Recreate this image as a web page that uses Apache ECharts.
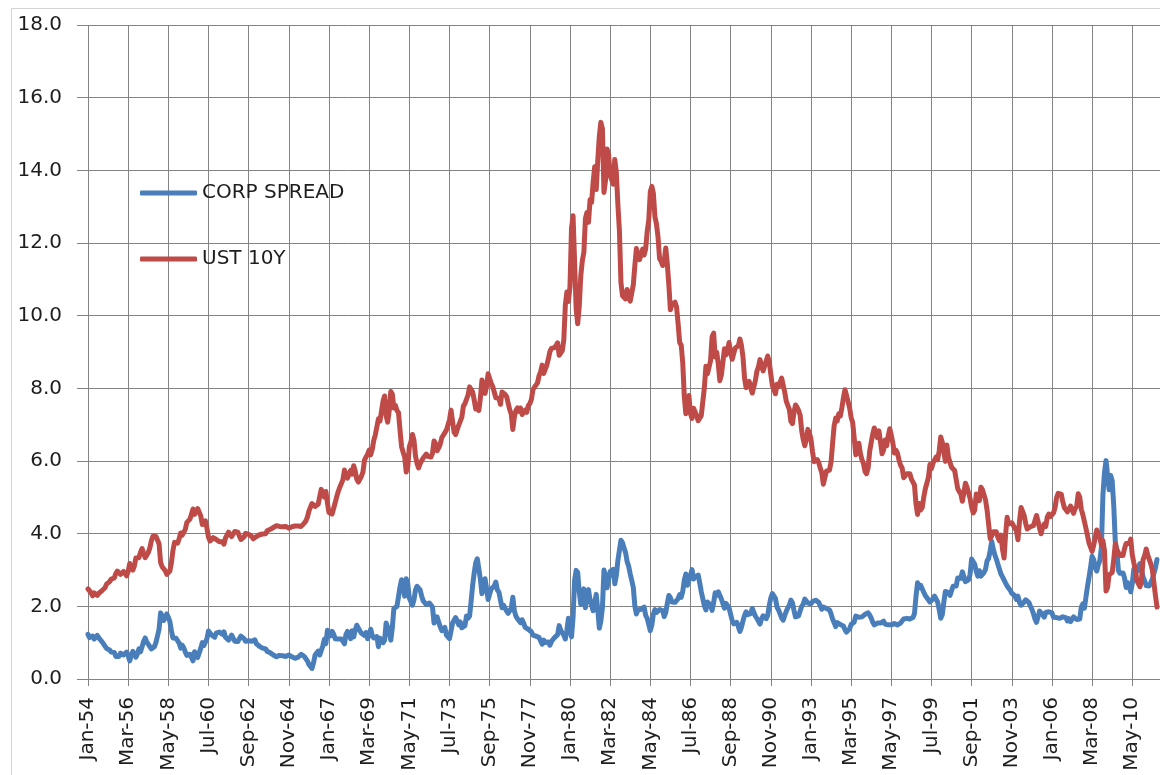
<!DOCTYPE html>
<html>
<head>
<meta charset="utf-8">
<script src="https://cdn.jsdelivr.net/npm/echarts@6/dist/echarts.min.js"></script>
<style>
html,body{margin:0;padding:0;background:#fff;}
#chart{width:1160px;height:775px;}
</style>
</head>
<body>
<div id="chart"></div>
<script>
// Month names used for category labels (Mon-YY), monthly from Jan-54 to Sep-11
const monthNames = ['Jan','Feb','Mar','Apr','May','Jun','Jul','Aug','Sep','Oct','Nov','Dec'];
const firstYear = 1954;
const lastYear = 2011;
const lastMonthIndex = 8; // Sep of last year

const categories = [];
for (let y = firstYear; y <= lastYear; y++) {
  for (let m = 0; m < 12; m++) {
    if (y === lastYear && m > lastMonthIndex) break;
    categories.push(monthNames[m] + '-' + String(y % 100).padStart(2, '0'));
  }
}

const yTickValues = [0, 2, 4, 6, 8, 10, 12, 14, 16, 18];

const seriesNames = ['CORP SPREAD', 'UST 10Y'];

// UST 10Y, monthly
const ust10y = [
2.48,2.47,2.37,2.29,2.37,2.38,2.30,2.36,2.38,2.43,2.48,2.51,
2.61,2.65,2.68,2.75,2.76,2.78,2.90,2.97,2.97,2.88,2.89,2.96,
2.90,2.84,2.96,3.18,3.07,3.00,3.11,3.33,3.38,3.34,3.49,3.59,
3.46,3.34,3.41,3.48,3.60,3.80,3.93,3.93,3.92,3.97,3.72,3.21,
3.09,3.05,2.98,2.88,2.92,2.97,3.20,3.54,3.76,3.80,3.74,3.86,
4.02,3.96,3.99,4.12,4.31,4.34,4.40,4.43,4.68,4.53,4.53,4.69,
4.72,4.49,4.25,4.28,4.35,4.15,3.90,3.80,3.80,3.89,3.93,3.84,
3.84,3.78,3.74,3.78,3.71,3.88,3.92,4.04,3.98,3.92,3.94,4.06,
4.08,4.04,3.93,3.84,3.87,3.91,4.01,3.98,3.98,3.93,3.92,3.86,
3.83,3.92,3.93,3.97,3.93,3.99,4.02,4.00,4.08,4.11,4.12,4.13,
4.17,4.15,4.22,4.23,4.20,4.17,4.19,4.19,4.20,4.19,4.15,4.18,
4.19,4.21,4.21,4.20,4.21,4.21,4.20,4.25,4.29,4.35,4.45,4.62,
4.61,4.83,4.87,4.75,4.78,4.81,5.02,5.22,5.18,5.01,5.16,4.84,
4.58,4.63,4.54,4.59,4.85,5.02,5.16,5.28,5.30,5.48,5.75,5.70,
5.53,5.56,5.74,5.64,5.87,5.72,5.50,5.42,5.46,5.58,5.70,6.03,
6.04,6.19,6.30,6.17,6.32,6.57,6.72,6.69,7.16,7.10,7.14,7.65,
7.79,7.24,7.07,7.39,7.91,7.84,7.46,7.53,7.39,7.33,6.84,6.39,
6.24,6.11,5.70,5.83,6.39,6.52,6.73,6.58,6.14,5.93,5.81,5.93,
5.95,6.08,6.07,6.19,6.13,6.11,6.11,6.21,6.55,6.48,6.28,6.36,
6.46,6.64,6.71,6.67,6.85,6.90,7.13,7.40,7.09,6.79,6.73,6.74,
6.99,6.96,7.21,7.51,7.58,7.54,7.81,8.04,8.04,7.90,7.68,7.43,
7.50,7.39,7.73,8.23,8.06,7.86,8.06,8.40,8.43,8.14,8.05,8.00,
7.74,7.79,7.73,7.56,7.90,7.86,7.83,7.77,7.59,7.41,7.29,6.87,
7.21,7.39,7.46,7.37,7.46,7.28,7.33,7.40,7.34,7.52,7.58,7.69,
7.96,8.03,8.04,8.15,8.35,8.46,8.64,8.41,8.42,8.64,8.81,9.01,
9.10,9.10,9.12,9.18,9.25,8.91,8.95,9.03,9.33,10.30,10.65,10.39,
10.80,12.41,12.75,11.47,10.18,9.78,10.25,11.10,11.51,11.75,12.68,12.84,
12.57,13.19,13.12,13.68,14.10,13.47,14.28,14.94,15.32,15.15,13.39,13.72,
14.59,14.43,13.86,13.87,13.62,14.30,13.95,13.06,12.34,10.91,10.55,10.54,
10.46,10.72,10.51,10.40,10.38,10.85,11.38,11.85,11.65,11.54,11.69,11.83,
11.67,11.84,12.32,12.63,13.41,13.56,13.36,12.72,12.52,12.16,11.57,11.50,
11.38,11.51,11.86,11.43,10.85,10.16,10.31,10.33,10.37,10.24,9.78,9.26,
9.19,8.70,7.78,7.30,7.71,7.80,7.30,7.17,7.45,7.43,7.25,7.11,
7.08,7.25,7.25,8.02,8.61,8.40,8.45,8.76,9.42,9.52,8.86,8.99,
8.67,8.21,8.37,8.72,9.09,8.92,9.06,9.26,8.98,8.80,8.96,9.11,
9.09,9.17,9.36,9.18,8.86,8.28,8.02,8.11,8.19,8.01,7.87,7.84,
8.21,8.47,8.59,8.79,8.76,8.48,8.47,8.75,8.89,8.72,8.39,8.08,
8.09,7.85,8.11,8.04,8.07,8.28,8.27,7.90,7.65,7.53,7.42,7.09,
7.03,7.34,7.54,7.48,7.39,7.26,6.84,6.59,6.42,6.59,6.87,6.77,
6.60,6.26,5.98,5.97,6.04,5.96,5.81,5.68,5.36,5.33,5.72,5.77,
5.75,5.97,6.48,6.97,7.18,7.10,7.30,7.24,7.46,7.74,7.96,7.81,
7.78,7.47,7.20,7.06,6.63,6.17,6.28,6.49,6.20,6.04,5.93,5.71,
5.65,5.81,6.27,6.51,6.74,6.91,6.87,6.64,6.83,6.53,6.20,6.30,
6.58,6.42,6.69,6.89,6.71,6.49,6.22,6.30,6.21,6.03,5.88,5.81,
5.54,5.57,5.65,5.64,5.65,5.50,5.46,5.34,4.81,4.53,4.83,4.65,
4.72,5.00,5.23,5.18,5.54,5.90,5.79,5.94,5.92,6.11,6.03,6.28,
6.66,6.52,6.26,5.99,6.44,6.10,6.05,5.83,5.80,5.74,5.72,5.24,
5.16,5.10,4.89,5.14,5.39,5.28,5.24,4.97,4.73,4.57,4.65,5.09,
5.04,4.91,5.28,5.21,5.16,4.93,4.65,4.26,3.87,3.94,4.05,4.03,
4.05,3.90,3.81,3.96,3.57,3.33,3.98,4.45,4.27,4.29,4.30,4.27,
4.15,4.08,3.83,4.35,4.72,4.73,4.50,4.28,4.13,4.10,4.19,4.23,
4.22,4.17,4.50,4.34,4.14,4.00,4.18,4.26,4.20,4.46,4.54,4.47,
4.42,4.57,4.72,4.99,5.11,5.11,5.09,4.88,4.72,4.73,4.60,4.56,
4.76,4.72,4.56,4.69,4.75,5.10,5.00,4.67,4.52,4.53,4.15,4.10,
3.74,3.74,3.51,3.68,3.88,4.10,4.01,3.89,3.69,3.81,3.53,2.42,
2.52,2.87,2.82,2.93,3.29,3.72,3.56,3.59,3.40,3.39,3.40,3.59,
3.73,3.69,3.73,3.85,3.42,3.20,3.01,2.70,2.65,2.54,2.76,3.29,
3.39,3.58,3.41,3.46,3.17,3.00,3.00,2.30,1.98
];

// CORP SPREAD, monthly
const corpSpread = [
1.23,1.14,1.14,1.18,1.10,1.11,1.20,1.13,1.09,1.03,0.97,0.94,
0.84,0.82,0.80,0.74,0.74,0.73,0.62,0.59,0.62,0.71,0.69,0.66,
0.70,0.74,0.64,0.50,0.66,0.76,0.69,0.60,0.69,0.83,0.75,0.78,
1.03,1.13,1.02,0.96,0.92,0.83,0.80,0.89,1.01,1.02,1.37,1.82,
1.74,1.61,1.70,1.79,1.70,1.58,1.33,1.13,1.11,1.12,1.13,0.99,
0.85,0.93,0.86,0.74,0.65,0.70,0.68,0.66,0.50,0.75,0.73,0.59,
0.62,0.85,1.00,0.92,0.93,1.11,1.32,1.28,1.21,1.22,1.15,1.26,
1.26,1.29,1.28,1.23,1.30,1.15,1.17,1.07,1.14,1.21,1.17,1.04,
1.00,1.03,1.11,1.18,1.13,1.11,1.04,1.08,1.05,1.06,1.04,1.06,
1.08,0.97,0.95,0.90,0.92,0.85,0.82,0.83,0.76,0.72,0.72,0.72,
0.66,0.68,0.61,0.62,0.65,0.68,0.64,0.63,0.62,0.62,0.66,0.63,
0.61,0.57,0.57,0.60,0.60,0.64,0.68,0.63,0.62,0.58,0.50,0.40,
0.45,0.29,0.45,0.66,0.70,0.77,0.66,0.61,0.91,1.09,0.97,1.34,
1.39,1.19,1.31,1.24,1.11,1.13,1.10,1.05,1.10,1.04,0.97,1.23,
1.31,1.24,1.11,1.33,1.16,1.35,1.48,1.40,1.33,1.26,1.31,1.20,
1.28,1.11,1.21,1.37,1.20,1.13,1.12,1.17,0.89,1.12,1.11,1.00,
1.07,1.54,1.56,1.31,1.07,1.41,1.94,1.91,2.00,2.00,2.54,2.73,
2.50,2.28,2.76,2.62,2.23,2.23,2.03,2.18,2.45,2.55,2.57,2.45,
2.28,2.15,2.17,2.05,2.10,2.09,2.12,1.98,1.54,1.58,1.71,1.57,
1.44,1.33,1.32,1.42,1.21,1.23,1.11,1.13,1.54,1.62,1.69,1.74,
1.49,1.57,1.41,1.36,1.47,1.73,1.67,1.73,2.14,2.58,2.92,3.20,
3.31,3.26,2.75,2.35,2.63,2.76,2.49,2.19,2.18,2.48,2.51,2.56,
2.67,2.45,2.39,2.38,1.96,2.03,1.99,1.87,1.81,1.88,1.94,2.25,
1.87,1.73,1.66,1.70,1.55,1.63,1.54,1.42,1.46,1.37,1.37,1.30,
1.21,1.17,1.18,1.17,1.14,1.14,0.96,1.07,1.00,0.95,1.02,0.93,
1.03,0.98,1.14,1.15,1.22,1.47,1.34,1.32,1.21,1.10,1.34,1.67,
1.62,1.16,1.70,2.72,2.99,2.93,2.40,2.05,2.19,2.48,1.96,2.30,
2.46,2.18,2.22,1.88,1.85,2.33,1.89,1.40,1.60,1.96,3.00,2.83,
2.51,2.75,2.96,2.91,3.02,2.62,2.85,3.26,3.29,3.82,3.75,3.60,
3.48,3.23,3.10,2.89,2.71,2.52,2.01,1.79,1.90,1.92,1.92,1.92,
1.98,1.75,1.67,1.68,1.33,1.49,1.79,1.91,1.83,1.78,1.91,1.90,
1.88,1.72,1.83,2.08,2.30,2.24,2.12,2.17,2.11,2.12,2.21,2.32,
2.25,2.41,2.72,2.89,2.58,2.54,2.86,3.01,2.75,2.81,2.82,2.86,
2.64,2.40,2.36,2.02,1.90,2.12,2.16,2.04,1.89,2.10,2.37,2.30,
2.40,2.41,2.20,2.18,1.95,2.08,2.05,1.95,1.92,1.61,1.52,1.54,
1.56,1.44,1.31,1.43,1.60,1.75,1.85,1.77,1.72,1.80,1.94,1.98,
1.73,1.67,1.62,1.51,1.65,1.74,1.73,1.66,1.75,2.02,2.23,2.35,
2.36,2.22,1.98,1.90,1.79,1.68,1.62,1.75,1.86,1.96,2.03,2.17,
2.10,1.89,1.71,1.73,1.74,1.79,2.00,2.06,2.20,2.25,2.09,2.04,
2.07,2.13,2.17,2.17,2.17,2.11,2.12,1.92,1.98,1.98,1.94,1.92,
1.90,1.79,1.65,1.55,1.44,1.55,1.50,1.50,1.52,1.46,1.36,1.29,
1.30,1.38,1.50,1.54,1.57,1.73,1.76,1.70,1.73,1.71,1.75,1.78,
1.82,1.82,1.76,1.68,1.56,1.49,1.48,1.54,1.52,1.54,1.59,1.59,
1.51,1.52,1.49,1.45,1.49,1.53,1.53,1.52,1.49,1.54,1.54,1.51,
1.65,1.68,1.67,1.69,1.65,1.63,1.69,1.80,2.28,2.65,2.51,2.58,
2.57,2.39,2.30,2.30,2.18,2.12,2.16,2.21,2.28,2.27,2.12,1.91,
1.67,1.77,2.11,2.41,2.46,2.38,2.30,2.43,2.55,2.60,2.56,2.78,
2.77,2.77,2.95,2.93,2.68,2.69,2.73,2.88,3.30,3.34,3.16,2.96,
2.83,2.98,2.83,2.82,2.93,3.02,3.25,3.32,3.53,3.79,3.57,3.42,
3.30,3.16,3.14,2.89,2.81,2.86,2.64,2.56,2.52,2.44,2.36,2.33,
2.29,2.19,2.28,2.11,2.03,2.05,2.12,2.18,2.14,2.11,2.01,1.92,
1.80,1.65,1.56,1.71,1.87,1.86,1.77,1.70,1.83,1.84,1.85,1.85,
1.82,1.70,1.69,1.69,1.64,1.67,1.67,1.71,1.71,1.69,1.60,1.66,
1.58,1.56,1.71,1.70,1.64,1.60,1.65,1.98,2.07,1.95,2.25,2.55,
2.80,3.08,3.38,3.29,3.05,2.97,3.15,3.26,3.62,5.07,5.68,6.01,
5.62,5.21,5.60,5.46,4.77,3.78,3.53,2.99,2.91,2.90,2.92,2.78,
2.52,2.65,2.54,2.40,2.63,3.03,3.00,2.96,3.01,3.18,3.16,2.81,
2.70,2.57,2.62,2.56,2.61,2.75,2.76,3.06,3.29
];

const FONT = 'DejaVu Sans';
const GRID_COLOR = '#838383';
const TEXT_COLOR = '#1e1e1e';
const LABEL_EVERY = 26;

const chart = echarts.init(document.getElementById('chart'), null, {renderer: 'canvas'});

const option = {
  animation: false,
  backgroundColor: '#ffffff',
  textStyle: {fontFamily: FONT},
  graphic: [{
    type: 'rect',
    z: -10,
    silent: true,
    shape: {x: 11.5, y: 8.5, width: 1300, height: 900},
    style: {fill: 'none', stroke: '#d4d4d4', lineWidth: 1}
  }],
  grid: [
    {left: 77, top: 25, right: -30, bottom: 96, containLabel: false},
    {left: 88, top: 25, width: 1069, bottom: 96, containLabel: false}
  ],
  xAxis: [
    {gridIndex: 0, type: 'value', show: false, min: 0, max: 1},
    {
      gridIndex: 1,
      type: 'category',
      data: categories,
      boundaryGap: false,
      axisLine: {show: false},
      axisTick: {show: true, interval: LABEL_EVERY - 1, length: 7, lineStyle: {color: GRID_COLOR, width: 1}},
      axisLabel: {
        interval: LABEL_EVERY - 1,
        rotate: 90,
        margin: 18,
        fontSize: 20,
        fontFamily: FONT,
        color: TEXT_COLOR
      },
      splitLine: {show: true, interval: LABEL_EVERY - 1, lineStyle: {color: GRID_COLOR, width: 1}}
    }
  ],
  yAxis: [
    {
      gridIndex: 0,
      type: 'value',
      min: yTickValues[0],
      max: yTickValues[yTickValues.length - 1],
      interval: yTickValues[1] - yTickValues[0],
      axisLine: {show: false},
      axisTick: {show: false},
      axisLabel: {
        margin: 15,
        fontSize: 20,
        fontFamily: FONT,
        color: TEXT_COLOR,
        formatter: v => v.toFixed(1)
      },
      splitLine: {show: true, lineStyle: {color: GRID_COLOR, width: 1}}
    },
    {
      gridIndex: 1,
      type: 'value',
      min: yTickValues[0],
      max: yTickValues[yTickValues.length - 1],
      interval: yTickValues[1] - yTickValues[0],
      show: false,
      splitLine: {show: false}
    }
  ],
  legend: {
    data: seriesNames,
    orient: 'vertical',
    left: 135,
    top: 177,
    icon: 'roundRect',
    itemWidth: 57,
    itemHeight: 5,
    itemGap: 44,
    textStyle: {fontSize: 20, lineHeight: 22, fontFamily: FONT, color: TEXT_COLOR}
  },
  series: [
    {
      name: seriesNames[0],
      type: 'line',
      xAxisIndex: 1,
      yAxisIndex: 1,
      data: corpSpread,
      showSymbol: false,
      symbol: 'none',
      lineStyle: {color: '#4a7ebb', width: 5, join: 'round', cap: 'round'},
      itemStyle: {color: '#4a7ebb'}
    },
    {
      name: seriesNames[1],
      type: 'line',
      xAxisIndex: 1,
      yAxisIndex: 1,
      data: ust10y,
      showSymbol: false,
      symbol: 'none',
      lineStyle: {color: '#be4b48', width: 5, join: 'round', cap: 'round'},
      itemStyle: {color: '#be4b48'}
    }
  ]
};

chart.setOption(option);
</script>
</body>
</html>
